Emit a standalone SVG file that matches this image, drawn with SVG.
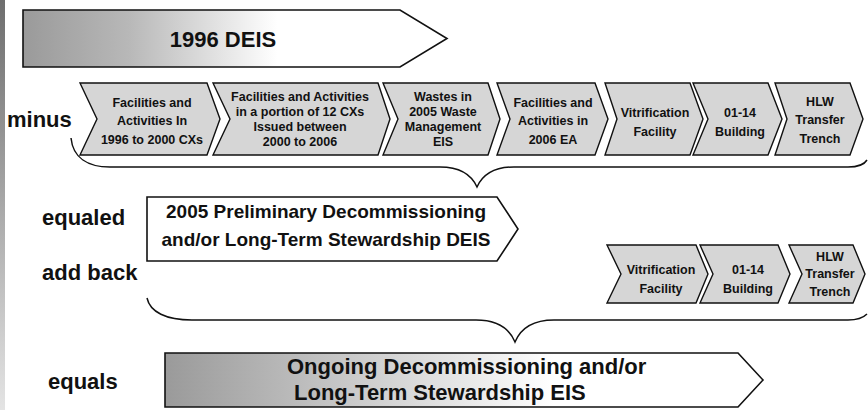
<svg xmlns="http://www.w3.org/2000/svg" width="868" height="410" viewBox="0 0 868 410">
  <defs>
    <linearGradient id="gTop" x1="23" y1="0" x2="447" y2="0" gradientUnits="userSpaceOnUse">
      <stop offset="0" stop-color="#9a9a9a"/>
      <stop offset="0.25" stop-color="#b8b8b8"/>
      <stop offset="0.6" stop-color="#ffffff"/>
      <stop offset="1" stop-color="#ffffff"/>
    </linearGradient>
    <linearGradient id="gBottom" x1="165" y1="0" x2="763" y2="0" gradientUnits="userSpaceOnUse">
      <stop offset="0" stop-color="#9a9a9a"/>
      <stop offset="0.2" stop-color="#b8b8b8"/>
      <stop offset="0.65" stop-color="#ffffff"/>
      <stop offset="1" stop-color="#ffffff"/>
    </linearGradient>
    <linearGradient id="gEdge" x1="0" y1="0" x2="0" y2="410" gradientUnits="userSpaceOnUse">
      <stop offset="0" stop-color="#6e6e6e"/>
      <stop offset="0.5" stop-color="#a8a8a8"/>
      <stop offset="1" stop-color="#e4e4e4"/>
    </linearGradient>
  </defs>
  <style>
    .box { stroke: #111; stroke-width: 1.6; stroke-linejoin: miter; }
    .chev { fill: #d6d6d6; stroke: #111; stroke-width: 1.4; stroke-linejoin: miter; }
    .ct { font-family: "Liberation Sans", Arial, sans-serif; font-weight: bold; font-size: 12.5px; fill: #111; text-anchor: middle; }
    .lbl { font-family: "Liberation Sans", Arial, sans-serif; font-weight: bold; font-size: 22px; fill: #111; }
    .big { font-family: "Liberation Sans", Arial, sans-serif; font-weight: bold; fill: #111; text-anchor: middle; }
    .bigl { font-family: "Liberation Sans", Arial, sans-serif; font-weight: bold; fill: #111; text-anchor: start; font-size: 22px; }
    .brace { fill: none; stroke: #111; stroke-width: 1.5; }
  </style>

  <rect x="0" y="0" width="868" height="410" fill="#ffffff"/>
  <rect id="edge" x="0" y="0" width="5" height="410" fill="url(#gEdge)"/>

  <g id="deis1996">
    <polygon class="box" fill="url(#gTop)" points="23,10 400,10 447,38.5 400,67 23,67"/>
    <text class="big" x="223" y="47" font-size="22">1996 DEIS</text>
  </g>

  <g id="labels">
    <text class="lbl" x="7" y="127">minus</text>
    <text class="lbl" x="42" y="225">equaled</text>
    <text class="lbl" x="42" y="280">add back</text>
    <text class="lbl" x="48" y="389">equals</text>
  </g>

  <g id="c1">
    <polygon class="chev" points="80,83 207,83 220,119 207,155 80,155 97,119"/>
    <text class="ct" x="152" y="107">Facilities and</text>
    <text class="ct" x="152" y="125">Activities In</text>
    <text class="ct" x="152" y="144">1996 to 2000 CXs</text>
  </g>
  <g id="c2">
    <polygon class="chev" points="213,83 378,83 390,119 378,155 213,155 230,119"/>
    <text class="ct" x="300" y="101">Facilities and Activities</text>
    <text class="ct" x="300" y="116">in a portion of 12 CXs</text>
    <text class="ct" x="300" y="131">Issued  between</text>
    <text class="ct" x="300" y="146">2000 to 2006</text>
  </g>
  <g id="c3">
    <polygon class="chev" points="383,83 488,83 500,119 488,155 383,155 398,119"/>
    <text class="ct" x="443" y="101">Wastes in</text>
    <text class="ct" x="443" y="116">2005 Waste</text>
    <text class="ct" x="443" y="131">Management</text>
    <text class="ct" x="443" y="146">EIS</text>
  </g>
  <g id="c4">
    <polygon class="chev" points="497,83 595,83 608,119 595,155 497,155 510,119"/>
    <text class="ct" x="553" y="107">Facilities and</text>
    <text class="ct" x="553" y="125">Activities in</text>
    <text class="ct" x="553" y="144">2006 EA</text>
  </g>
  <g id="c5">
    <polygon class="chev" points="605,83 690,83 703,119 690,155 605,155 617,119"/>
    <text class="ct" x="655" y="117">Vitrification</text>
    <text class="ct" x="655" y="136">Facility</text>
  </g>
  <g id="c6">
    <polygon class="chev" points="693,83 768,83 782,119 768,155 693,155 708,119"/>
    <text class="ct" x="740" y="117">01-14</text>
    <text class="ct" x="740" y="136">Building</text>
  </g>
  <g id="c7">
    <polygon class="chev" points="775,83 850,83 863,119 850,155 775,155 787,119"/>
    <text class="ct" x="820" y="106">HLW</text>
    <text class="ct" x="820" y="124">Transfer</text>
    <text class="ct" x="820" y="143">Trench</text>
  </g>

  <g id="deis2005">
    <polygon class="box" fill="#ffffff" points="147,197 497,197 518,229 497,261 147,261"/>
    <text class="big" x="326" y="218" font-size="19">2005 Preliminary Decommissioning</text>
    <text class="big" x="326" y="246" font-size="19">and/or Long-Term Stewardship DEIS</text>
  </g>

  <g id="a1">
    <polygon class="chev" points="607,245 696,245 708,274 696,303 607,303 621,274"/>
    <text class="ct" x="661" y="274">Vitrification</text>
    <text class="ct" x="661" y="293">Facility</text>
  </g>
  <g id="a2">
    <polygon class="chev" points="700,245 778,245 790,274 778,303 700,303 713,274"/>
    <text class="ct" x="748" y="274">01-14</text>
    <text class="ct" x="748" y="293">Building</text>
  </g>
  <g id="a3">
    <polygon class="chev" points="789,245 853,245 865,274 853,303 789,303 802,274"/>
    <text class="ct" x="830" y="261">HLW</text>
    <text class="ct" x="830" y="278">Transfer</text>
    <text class="ct" x="830" y="296">Trench</text>
  </g>

  <g id="eis">
    <polygon class="box" fill="url(#gBottom)" points="165,353 738,353 763,380 738,407 165,407"/>
    <text class="bigl" x="287" y="374">Ongoing Decommissioning and/or</text>
    <text class="bigl" x="294" y="400">Long-Term Stewardship EIS</text>
  </g>

  <g id="connectors">
    <path class="brace" d="M71,138 C73,158 88,167 110,167 L440,167 C462,167 472,176 477,187 C482,176 492,167 514,167 L848,167 C858,167 864,165 867,160"/>
    <path class="brace" d="M147,298 C150,312 166,320 192,320 L476,320 C500,320 510,330 515,342 C520,330 530,320 554,320 L848,320 C857,320 863,318 867,314"/>
  </g>
</svg>
